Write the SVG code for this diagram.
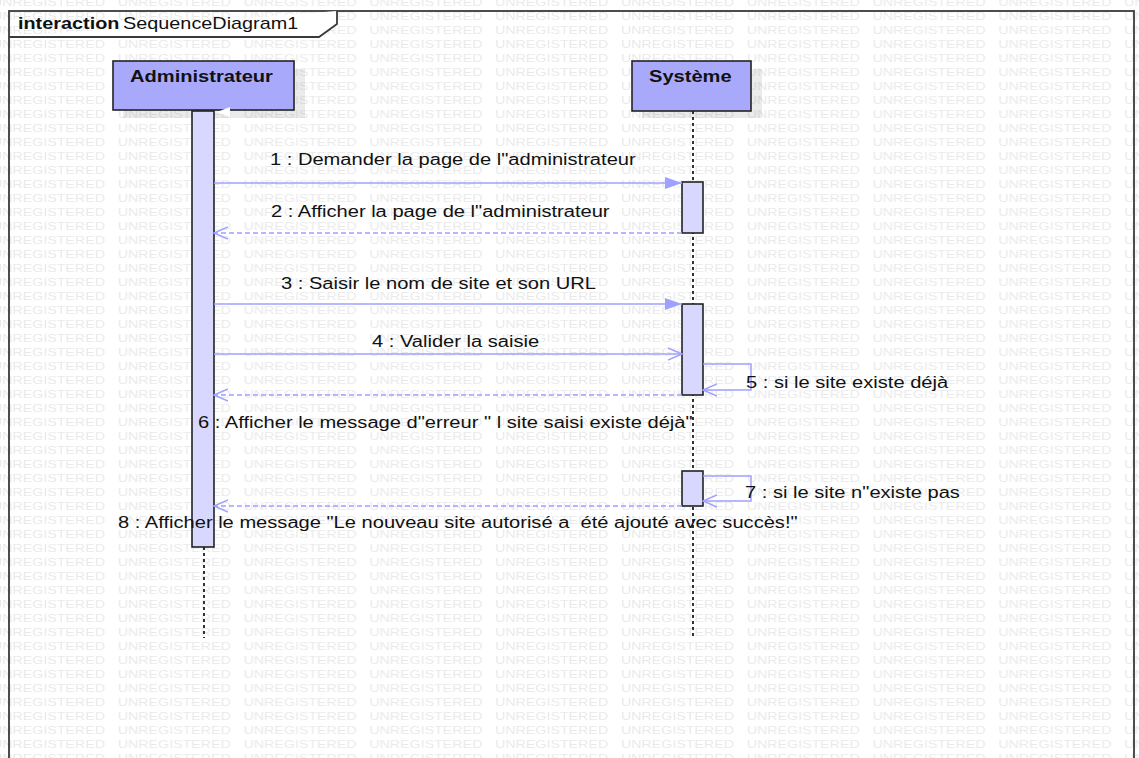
<svg xmlns="http://www.w3.org/2000/svg" width="1139" height="758" viewBox="0 0 1139 758">
<style>
.lbl{font-family:"Liberation Sans",Arial,sans-serif;font-size:16px;fill:#111;white-space:pre}
.bold{font-weight:bold}
.wm{font-family:"Liberation Sans",Arial,sans-serif;font-size:11.3px;fill:#e9e9e9}
.part{fill:#a9a9fc;stroke:#222;stroke-width:1.6}
.shadow{fill:#000;fill-opacity:0.08}
.act{fill:#d8d8ff;stroke:#222;stroke-width:1.6}
.life{stroke:#333;stroke-width:2;stroke-dasharray:3 3;fill:none}
.msg{stroke:#a0a0ff;stroke-width:1.5;fill:none}
.ret{stroke:#a0a0ff;stroke-width:1.5;fill:none;stroke-dasharray:5 3}
</style>
<defs>
<pattern id="wmp" patternUnits="userSpaceOnUse" x="-8" y="-6" width="125.8" height="14">
<text class="wm" x="0" y="12" textLength="113" lengthAdjust="spacingAndGlyphs">UNREGISTERED</text>
</pattern>
<marker id="filled" markerUnits="userSpaceOnUse" markerWidth="18" markerHeight="12" refX="17" refY="6" orient="auto">
<path d="M0,0 L17,6 L0,12 z" fill="#a0a0ff"/>
</marker>
<marker id="open" markerUnits="userSpaceOnUse" markerWidth="16" markerHeight="14" refX="14" refY="7" orient="auto">
<path d="M0,1 L14,7 L0,13" fill="none" stroke="#a0a0ff" stroke-width="1.5"/>
</marker>
</defs>
<rect x="0" y="0" width="1139" height="758" fill="#fff"/>
<rect x="0" y="0" width="1139" height="758" fill="url(#wmp)"/>
<g id="frame">
<rect x="9" y="11" width="1125" height="760" fill="none" stroke="#3a3a3a" stroke-width="1.8"/>
<path d="M9,37 H319 L337,24 V11" fill="#fff" stroke="#3a3a3a" stroke-width="1.8"/>
<text class="lbl bold" transform="translate(18,29) scale(1.24,1)">interaction</text>
<text class="lbl" transform="translate(123,29) scale(1.24,1)">SequenceDiagram1</text>
</g>
<g id="lifelines">
<line class="life" x1="693" y1="111" x2="693" y2="638"/>
<line class="life" x1="204" y1="547" x2="204" y2="638"/>
</g>
<g id="administrateur">
<rect class="shadow" x="123" y="69" width="182" height="49"/>
<rect class="part" x="113" y="61" width="181" height="49"/>
<text class="lbl bold" transform="translate(130,82) scale(1.257,1)">Administrateur</text>
<rect class="act" x="192" y="111" width="22" height="436"/>
<polygon points="217,112 230,107 230,117" fill="#fff"/>
</g>
<g id="systeme">
<rect class="shadow" x="642" y="69" width="120" height="49"/>
<rect class="part" x="632" y="61" width="119" height="50"/>
<text class="lbl bold" transform="translate(649,82) scale(1.257,1)">Système</text>
<rect class="act" x="682" y="182" width="21" height="51"/>
<rect class="act" x="682" y="304" width="21" height="91"/>
<rect class="act" x="682" y="471" width="21" height="35"/>
</g>
<g id="connectors">
<line class="msg" x1="214" y1="183" x2="682" y2="183" marker-end="url(#filled)"/>
<line class="ret" x1="682" y1="233" x2="214" y2="233" marker-end="url(#open)"/>
<line class="msg" x1="214" y1="304" x2="682" y2="304" marker-end="url(#filled)"/>
<line class="msg" x1="214" y1="354" x2="682" y2="354" marker-end="url(#open)"/>
<path class="msg" d="M703,364 H751 V390 H703" marker-end="url(#open)"/>
<line class="ret" x1="682" y1="395" x2="214" y2="395" marker-end="url(#open)"/>
<path class="msg" d="M703,476 H751 V501 H703" marker-end="url(#open)"/>
<line class="ret" x1="682" y1="506" x2="214" y2="506" marker-end="url(#open)"/>
</g>
<g id="labels">
<text class="lbl" transform="translate(270,165) scale(1.257,1)">1 : Demander la page de l"administrateur</text>
<text class="lbl" transform="translate(271,217) scale(1.257,1)">2 : Afficher la page de l"administrateur</text>
<text class="lbl" transform="translate(281,289) scale(1.257,1)">3 : Saisir le nom de site et son URL</text>
<text class="lbl" transform="translate(372,347) scale(1.257,1)">4 : Valider la saisie</text>
<text class="lbl" transform="translate(746,388) scale(1.257,1)">5 : si le site existe déjà</text>
<text class="lbl" transform="translate(198,428) scale(1.257,1)">6 : Afficher le message d"erreur " l site saisi existe déjà"</text>
<text class="lbl" transform="translate(745,498) scale(1.257,1)">7 : si le site n"existe pas</text>
<text class="lbl" transform="translate(118,528) scale(1.257,1)" xml:space="preserve">8 : Afficher le message "Le nouveau site autorisé a  été ajouté avec succès!"</text>
</g>
</svg>
